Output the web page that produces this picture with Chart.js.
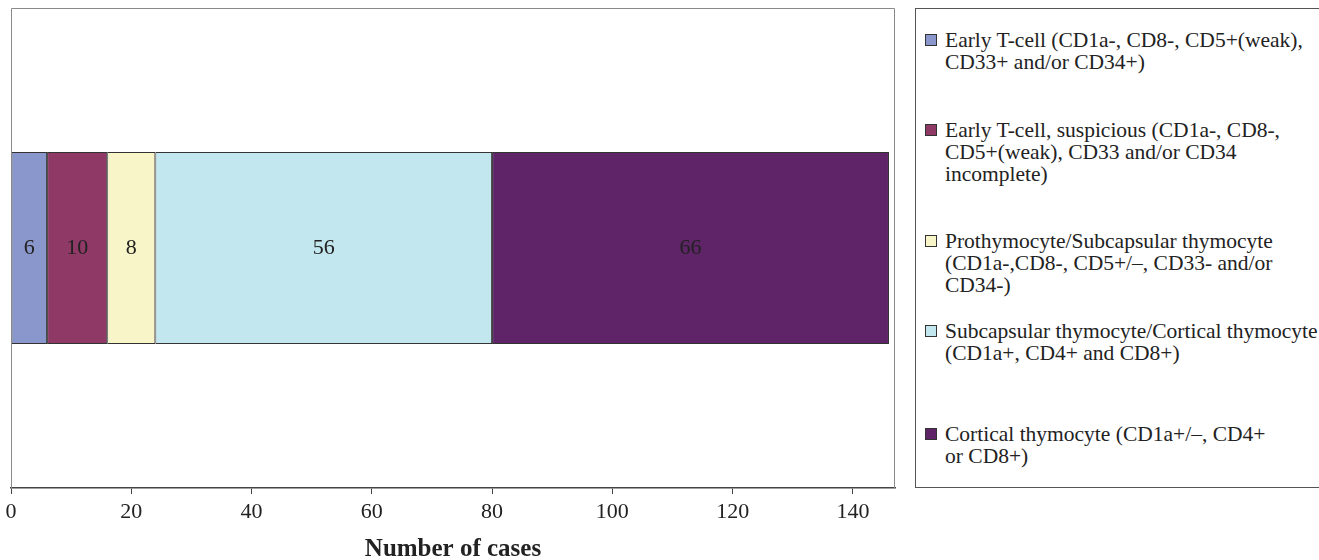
<!DOCTYPE html>
<html>
<head>
<meta charset="utf-8">
<script src="https://cdn.jsdelivr.net/npm/chart.js@4.4.1/dist/chart.umd.min.js"></script>
<style>
  body { margin: 0; background: #fff; font-family: "Liberation Serif", "Times New Roman", serif; }
  #wrap { position: relative; width: 1319px; height: 560px; overflow: hidden; }
  #chartBox { position: absolute; left: -2px; top: 0; width: 907px; height: 560px; }
  #legend { position: absolute; left: 915px; top: 8px; width: 420px; height: 480px; border: 1.5px solid #555; box-sizing: border-box; }
  .item { position: absolute; left: 29px; font-size: 21.5px; line-height: 22px; color: #222; white-space: nowrap; }
  .item .box { position: absolute; left: -20px; top: 5px; width: 10px; height: 10px; border: 1px solid #333; }
</style>
</head>
<body>
<div id="wrap">
  <div id="chartBox"><canvas id="chart"></canvas></div>
  <div id="legend"></div>
</div>
<script>
const category = ['Cases'];
const seriesNames = [
    ['Early T-cell (CD1a-, CD8-, CD5+(weak),', 'CD33+ and/or CD34+)'],
    ['Early T-cell, suspicious (CD1a-, CD8-,', 'CD5+(weak), CD33 and/or CD34', 'incomplete)'],
    ['Prothymocyte/Subcapsular thymocyte', '(CD1a-,CD8-, CD5+/\u2013, CD33- and/or', 'CD34-)'],
    ['Subcapsular thymocyte/Cortical thymocyte', '(CD1a+, CD4+ and CD8+)'],
    ['Cortical thymocyte (CD1a+/\u2013, CD4+', 'or CD8+)']
];
const seriesValues = [6, 10, 8, 56, 66];
const seriesColors = ['#8a97cc', '#8e3966', '#f8f6c8', '#c3e7ef', '#5e2467'];
const xTicks = [0, 20, 40, 60, 80, 100, 120, 140];
const xTitle = 'Number of cases';

// legend positions (top of first line) inside the boxed legend
const legendTops = [20, 110, 221, 311, 414];

const legendEl = document.getElementById('legend');
seriesNames.forEach((lines, i) => {
    const div = document.createElement('div');
    div.className = 'item';
    div.style.top = legendTops[i] + 'px';
    div.innerHTML = '<span class="box" style="background:' + seriesColors[i] + '"></span>' + lines.join('<br>');
    legendEl.appendChild(div);
});

const framePlugin = {
    id: 'frame',
    afterDraw(chart) {
        const { ctx, chartArea } = chart;
        ctx.save();
        ctx.strokeStyle = '#8a8a8a';
        ctx.lineWidth = 1;
        ctx.beginPath();
        ctx.moveTo(chartArea.left + 0.5, chartArea.bottom);
        ctx.lineTo(chartArea.left + 0.5, chartArea.top + 0.5);
        ctx.lineTo(chartArea.right - 0.5, chartArea.top + 0.5);
        ctx.lineTo(chartArea.right - 0.5, chartArea.bottom);
        ctx.stroke();
        ctx.restore();
    }
};

const valueLabels = {
    id: 'valueLabels',
    afterDatasetsDraw(chart) {
        const ctx = chart.ctx;
        ctx.save();
        ctx.font = '22px "Liberation Serif", serif';
        ctx.fillStyle = '#222';
        ctx.textAlign = 'center';
        ctx.textBaseline = 'middle';
        chart.data.datasets.forEach((ds, i) => {
            const meta = chart.getDatasetMeta(i);
            meta.data.forEach((bar, j) => {
                const cx = (bar.x + bar.base) / 2;
                ctx.fillText(String(ds.data[j]), cx, bar.y);
            });
        });
        ctx.restore();
    }
};

new Chart(document.getElementById('chart'), {
    type: 'bar',
    data: {
        labels: category,
        datasets: seriesValues.map((v, i) => ({
            label: seriesNames[i].join(' '),
            data: [v],
            backgroundColor: seriesColors[i],
            borderColor: '#333',
            borderWidth: 1,
            borderSkipped: false,
            barPercentage: 0.4,
            categoryPercentage: 1
        }))
    },
    options: {
        indexAxis: 'y',
        responsive: true,
        maintainAspectRatio: false,
        animation: false,
        layout: { padding: { left: 13, right: 10, top: 8, bottom: 0 } },
        plugins: { legend: { display: false }, tooltip: { enabled: false } },
        scales: {
            x: {
                stacked: true,
                min: 0,
                max: 147,
                afterBuildTicks: axis => { axis.ticks = xTicks.map(v => ({ value: v })); },
                grid: { drawOnChartArea: false, drawTicks: true, tickLength: 6, color: '#444' },
                border: { color: '#444', width: 1.5 },
                ticks: {
                    color: '#222',
                    padding: 7,
                    font: { family: '"Liberation Serif", serif', size: 22, lineHeight: 1 }
                },
                title: {
                    display: true,
                    text: xTitle,
                    color: '#222',
                    padding: { top: 9, bottom: 0 },
                    font: { family: '"Liberation Serif", serif', size: 25, weight: 'bold', lineHeight: 0.84 }
                }
            },
            y: {
                stacked: true,
                display: false
            }
        }
    },
    plugins: [framePlugin, valueLabels]
});
</script>
</body>
</html>
